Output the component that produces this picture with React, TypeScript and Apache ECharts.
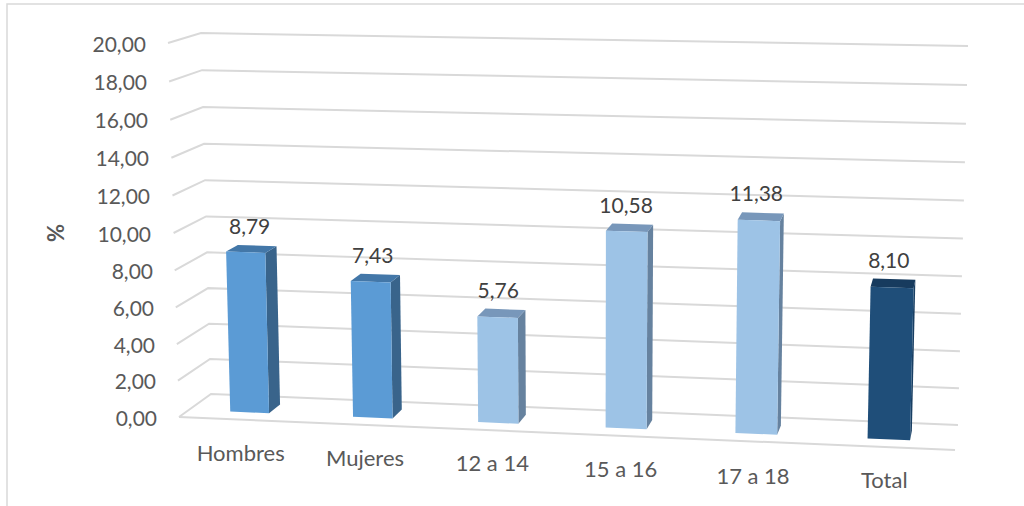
import React, { useEffect, useRef } from "react";
import * as echarts from "echarts";

const categories = ["Hombres", "Mujeres", "12 a 14", "15 a 16", "17 a 18", "Total"];
const values = [8.79, 7.43, 5.76, 10.58, 11.38, 8.1];
const valueLabels = ["8,79", "7,43", "5,76", "10,58", "11,38", "8,10"];
const yTicks = [0, 2, 4, 6, 8, 10, 12, 14, 16, 18, 20];
const frontColors = ["#5B9BD5", "#5B9BD5", "#9DC3E6", "#9DC3E6", "#9DC3E6", "#1F4E79"];
const topColors = ["#4377A8", "#4377A8", "#7897BA", "#7897BA", "#7897BA", "#173B5E"];
const sideColors = ["#39648B", "#39648B", "#66829F", "#66829F", "#66829F", "#193F63"];

// Layout of the drawn 3D box (pixel corners of the projected room)
const GRID = { left: 179, top: 43, width: 776, height: 374 };
const FL0: P2 = [179, 417], FL1: P2 = [168, 43];
const FR0: P2 = [955, 450], FR1: P2 = [965, 64];
const BL0: P2 = [211, 394], BL1: P2 = [201, 33];
const BR0: P2 = [958, 425], BR1: P2 = [968, 46];
const D_FRONT = 0.31, D_BACK = 0.69, BAR_RATIO = 0.159;
const GRID_COLOR = "#D9D9D9";

type P2 = [number, number];
const mix = (a: P2, b: P2, t: number): P2 => [a[0] + (b[0] - a[0]) * t, a[1] + (b[1] - a[1]) * t];
const warpU = (u: number) => u - 0.055 * u * (1 - u);
const warpV = (v: number) => v - 0.032 * v * (1 - v);
function project(u: number, d: number, vRaw: number): P2 {
  const w = warpU(u);
  const v = warpV(vRaw);
  const f0 = mix(FL0, FR0, w), f1 = mix(FL1, FR1, w), b0 = mix(BL0, BR0, w), b1 = mix(BL1, BR1, w);
  return mix(mix(f0, f1, v), mix(b0, b1, v), d);
}
const toU = (px: number) => (px - GRID.left) / GRID.width;
const toV = (py: number) => (GRID.top + GRID.height - py) / GRID.height;

// label nudges along the slanted axes
const yPadRight = (t: number) => Math.round((t / 20) * 11);
const yPadTop = (t: number) => {
  const v = t / 20;
  return Math.round(2 * (v - warpV(v)) * GRID.height);
};
const xPadTop = [0, 10, 20, 32, 46, 54];
const xPadRight = [6, 16, 20, 22, 16, 12];

const FONT = "Lato, 'Open Sans', sans-serif";

export default function App() {
  const ref = useRef<HTMLDivElement>(null);
  useEffect(() => {
    document.body.style.margin = "0";
    const chart = echarts.init(ref.current!, undefined, { renderer: "svg" });

    const yRich: Record<string, any> = {};
    yTicks.forEach((t) => {
      yRich["t" + t] = { fontFamily: FONT, fontSize: 21, color: "#595959", padding: [yPadTop(t), yPadRight(t), 0, 0] };
    });
    const xRich: Record<string, any> = {};
    categories.forEach((_, i) => {
      xRich["c" + i] = {
        fontFamily: FONT, fontSize: 22, color: "#595959", lineHeight: 24,
        padding: [xPadTop[i], xPadRight[i], 0, 0],
      };
    });

    chart.setOption({
      animation: false,
      grid: { ...GRID, containLabel: false },
      graphic: [
        {
          type: "polyline",
          silent: true,
          shape: { points: [[7, 506], [7, 4], [1024, 4]] },
          style: { stroke: "#D9D9D9", lineWidth: 1.5, fill: "none" },
        },
      ],
      xAxis: {
        type: "category",
        data: categories,
        axisLine: { show: false },
        axisTick: { show: false },
        splitLine: { show: false },
        axisLabel: {
          interval: 0,
          margin: 23,
          hideOverlap: false,
          formatter: (val: string, i: number) => `{c${i}|${val}}`,
          rich: xRich,
        },
      },
      yAxis: {
        type: "value",
        min: 0,
        max: 20,
        interval: 2,
        name: "%",
        nameLocation: "middle",
        nameGap: 113,
        nameRotate: 90,
        nameTextStyle: { fontFamily: FONT, fontSize: 22, fontWeight: "bold", color: "#595959", padding: [0, 6, 0, 0] },
        axisLine: { show: false },
        axisTick: { show: false },
        splitLine: { show: false },
        axisLabel: {
          margin: 22,
          formatter: (val: number) => `{t${val}|${val.toFixed(2).replace(".", ",")}}`,
          rich: yRich,
        },
      },
      series: [
        {
          type: "custom",
          clip: false,
          silent: true,
          z: 1,
          data: yTicks.map((t) => [0, t]),
          encode: { x: 0, y: 1 },
          renderItem: (_p: any, api: any) => {
            const v = toV(api.coord([0, api.value(1)])[1]);
            const style = { stroke: GRID_COLOR, lineWidth: 2, fill: "none" };
            const children: any[] = [
              { type: "polyline", shape: { points: [project(0, 0, v), project(0, 1, v), project(1, 1, v)] }, style },
            ];
            if (v === 0) {
              children.push({ type: "line", shape: { x1: FL0[0], y1: FL0[1], x2: FR0[0], y2: FR0[1] }, style });
            }
            return { type: "group", children };
          },
        },
        {
          type: "custom",
          clip: false,
          silent: true,
          z: 2,
          data: values.map((v, i) => [i, v]),
          encode: { x: 0, y: 1 },
          renderItem: (p: any, api: any) => {
            const i = p.dataIndex;
            const [cx, cy] = api.coord([api.value(0), api.value(1)]);
            const half = (api.size([1, 0])[0] / GRID.width) * BAR_RATIO;
            const u = toU(cx), v = toV(cy);
            const a = u - half, b = u + half;
            const poly = (pts: P2[], fill: string) => ({ type: "polygon", shape: { points: pts }, style: { fill } });
            const labelPos = project(u, D_FRONT, 0);
            const labelTop = project(u, D_BACK, v);
            return {
              type: "group",
              children: [
                poly([project(b, D_FRONT, 0), project(b, D_BACK, 0), project(b, D_BACK, v), project(b, D_FRONT, v)], sideColors[i]),
                poly([project(a, D_FRONT, v), project(b, D_FRONT, v), project(b, D_BACK, v), project(a, D_BACK, v)], topColors[i]),
                poly([project(a, D_FRONT, 0), project(b, D_FRONT, 0), project(b, D_FRONT, v), project(a, D_FRONT, v)], frontColors[i]),
                {
                  type: "text",
                  style: {
                    x: labelPos[0],
                    y: labelTop[1] - 20,
                    text: valueLabels[i],
                    fill: "#404040",
                    font: `21px ${FONT}`,
                    align: "center",
                    verticalAlign: "middle",
                  },
                },
              ],
            };
          },
        },
      ],
    });
    return () => chart.dispose();
  }, []);
  return <div ref={ref} style={{ width: 1024, height: 506, overflow: "hidden" }} />;
}
